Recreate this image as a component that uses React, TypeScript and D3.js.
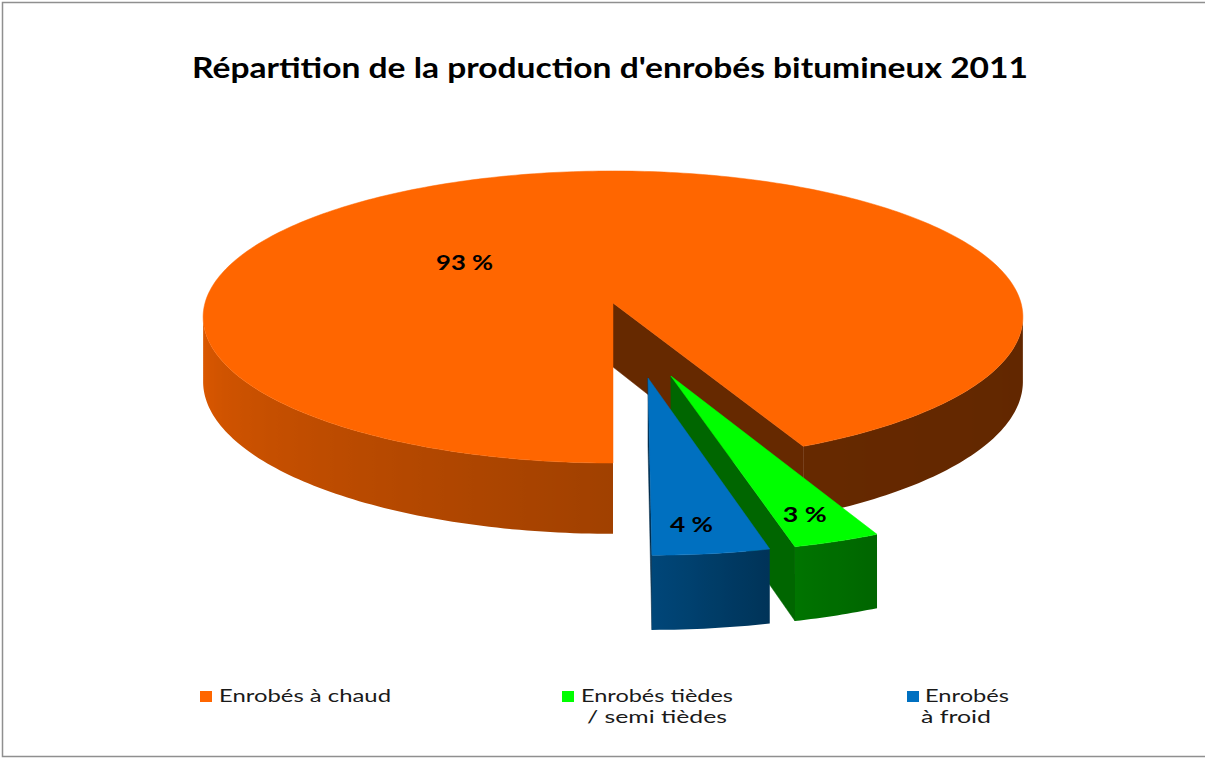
import React from 'react';
import * as d3 from 'd3';

// ---- data ----
const title = "Répartition de la production d'enrobés bitumineux 2011";
const categories = ['Enrobés à chaud', 'Enrobés tièdes / semi tièdes', 'Enrobés à froid'];
const values = [93, 3, 4];
const valueLabels = ['93 %', '3 %', '4 %'];
const legendLines = [['Enrobés à chaud'], ['Enrobés tièdes', '/ semi tièdes'], ['Enrobés', 'à froid']];

// ---- style / layout ----
const colors = ['#FF6600', '#00FF00', '#0070C0'];
const W = 1205, H = 758;
const CX = 613, CY = 303, SX = 408, SY = 144.7, DEPTH = 64, PERSP = 0.0959;
const CAM_V = 1 / PERSP;
const explode = [{ r: 0, a: 0 }, { r: 0.5, a: 164.3 }, { r: 0.5, a: 170.6 }];
const labelPos = [{ r: 0.468, a: 307 }, { r: 0.85, a: 161 }, { r: 0.85, a: 174.2 }];
const labelWidths = [57, 44, 43];
const legendSquares = [200, 562, 907];
const legendTextX = [[219], [581, 587], [925, 921]];
const legendWidths = [[172], [152, 140], [84, 70]];
const FONT = 'Lato, "Open Sans", sans-serif';

const rad = (d: number) => (d * Math.PI) / 180;
function proj(u: number, v: number, z: number): [number, number] {
  const w = 1 - PERSP * v;
  return [CX + (SX * u) / w, CY + (SY * v + DEPTH * z) / w];
}
function shade(hex: string, k: number) {
  const c = d3.rgb(hex);
  return d3.rgb(c.r * k, c.g * k, c.b * k).formatHex();
}
const shadeScale = d3
  .scaleLinear()
  .domain([90, 155, 165, 180, 270])
  .range([0.38, 0.4, 0.45, 0.63, 0.88])
  .clamp(true);

const pathOf = (pts: [number, number][]) => d3.line()(pts) + 'Z';

type Run = { d: string; id: string; x1: number; x2: number; stops: { off: number; color: string }[] };

export default function App() {
  const pie = d3.pie<number>().sort(null).startAngle(Math.PI).endAngle(3 * Math.PI);
  const arcs = pie(values);

  const slices = arcs.map((arc, i) => {
    const ex = explode[i];
    const ou = ex.r * Math.sin(rad(ex.a));
    const ov = -ex.r * Math.cos(rad(ex.a));
    const rim = (t: number, z: number) => proj(ou + Math.sin(t), ov - Math.cos(t), z);
    const a0 = arc.startAngle, a1 = arc.endAngle;
    const n = Math.max(16, Math.ceil(((a1 - a0) * 180) / Math.PI));
    const ts = d3.range(n + 1).map((k) => a0 + ((a1 - a0) * k) / n);
    const color = colors[i];

    // top face
    const top = pathOf([proj(ou, ov, 0), ...ts.map((t) => rim(t, 0))]);

    // outer side: contiguous visible runs, with gradient
    const visible = (t: number) => {
      const nu = Math.sin(t), nv = -Math.cos(t);
      return (0 - (ou + nu)) * nu + (CAM_V - (ov + nv)) * nv > 0;
    };
    const runsT: number[][] = [];
    let cur: number[] = [];
    ts.forEach((t) => {
      if (visible(t)) cur.push(t);
      else {
        if (cur.length > 1) runsT.push(cur);
        cur = [];
      }
    });
    if (cur.length > 1) runsT.push(cur);

    const runs: Run[] = runsT.map((run, r) => {
      const topPts = run.map((t) => rim(t, 0));
      const botPts = run.map((t) => rim(t, 1)).reverse();
      const xs = run.map((t) => rim(t, 0.5)[0]);
      const x1 = d3.min(xs) as number, x2 = d3.max(xs) as number;
      const stops = run
        .map((t, k) => {
          let deg = ((t * 180) / Math.PI) % 360;
          if (deg < 0) deg += 360;
          return { off: (xs[k] - x1) / Math.max(1e-6, x2 - x1), color: shade(color, shadeScale(deg)) };
        })
        .sort((a, b) => a.off - b.off);
      return { d: pathOf([...topPts, ...botPts]), id: `side-${i}-${r}`, x1, x2, stops };
    });

    // cut faces
    const cuts: string[] = [];
    const edges = [
      { t: a0, nu: -Math.cos(a0), nv: -Math.sin(a0) },
      { t: a1, nu: Math.cos(a1), nv: Math.sin(a1) },
    ];
    edges.forEach((e) => {
      const vis = (0 - ou) * e.nu + (CAM_V - ov) * e.nv;
      if (vis > 1e-6) {
        cuts.push(pathOf([proj(ou, ov, 0), rim(e.t, 0), rim(e.t, 1), proj(ou, ov, 1)]));
      }
    });

    // label
    const lp = labelPos[i];
    const [lx, ly] = proj(ou + lp.r * Math.sin(rad(lp.a)), ov - lp.r * Math.cos(rad(lp.a)), 0);

    return { top, runs, cuts, color, lx, ly, i };
  });

  return (
    <svg width={W} height={H} style={{ position: 'absolute', left: 0, top: 0, background: '#fff' }}>
      <defs>
        {slices.map((s) =>
          s.runs.map((r) => (
            <linearGradient key={r.id} id={r.id} gradientUnits="userSpaceOnUse" x1={r.x1} y1={0} x2={r.x2} y2={0}>
              {r.stops.map((st, k) => (
                <stop key={k} offset={st.off} stopColor={st.color} />
              ))}
            </linearGradient>
          ))
        )}
      </defs>
      <rect x={0} y={0} width={W} height={H} fill="#fff" />
      <rect x={2.5} y={2.5} width={W + 10} height={754} fill="none" stroke="#8f8f8f" strokeWidth={1.5} />
      <text
        x={610}
        y={78}
        textAnchor="middle"
        fontFamily={FONT}
        fontWeight="bold"
        fontSize={29}
        textLength={836}
        lengthAdjust="spacingAndGlyphs"
        fill="#000"
      >
        {title}
      </text>

      {slices.map((s) => (
        <g key={s.i}>
          {s.cuts.map((d, k) => (
            <path key={'c' + k} d={d} fill={shade(s.color, 0.4)} stroke={shade(s.color, 0.4)} strokeWidth={0.5} />
          ))}
          {s.runs.map((r) => (
            <path key={r.id} d={r.d} fill={`url(#${r.id})`} />
          ))}
          <path d={s.top} fill={s.color} stroke={s.color} strokeWidth={0.5} />
        </g>
      ))}

      {slices.map((s) => (
        <text
          key={'l' + s.i}
          x={s.lx}
          y={s.ly + 7}
          textAnchor="middle"
          fontFamily={FONT}
          fontWeight="bold"
          fontSize={20}
          textLength={labelWidths[s.i]}
          lengthAdjust="spacingAndGlyphs"
          fill="#000"
        >
          {valueLabels[s.i]}
        </text>
      ))}

      {categories.map((c, i) => (
        <g key={'lg' + i}>
          <rect x={legendSquares[i]} y={691} width={12} height={11} fill={colors[i]} />
          {legendLines[i].map((line, j) => (
            <text
              key={j}
              x={legendTextX[i][j]}
              y={702 + j * 21}
              fontFamily={FONT}
              fontSize={17.5}
              textLength={legendWidths[i][j]}
              lengthAdjust="spacingAndGlyphs"
              fill="#1a1a1a"
            >
              {line}
            </text>
          ))}
        </g>
      ))}
    </svg>
  );
}
